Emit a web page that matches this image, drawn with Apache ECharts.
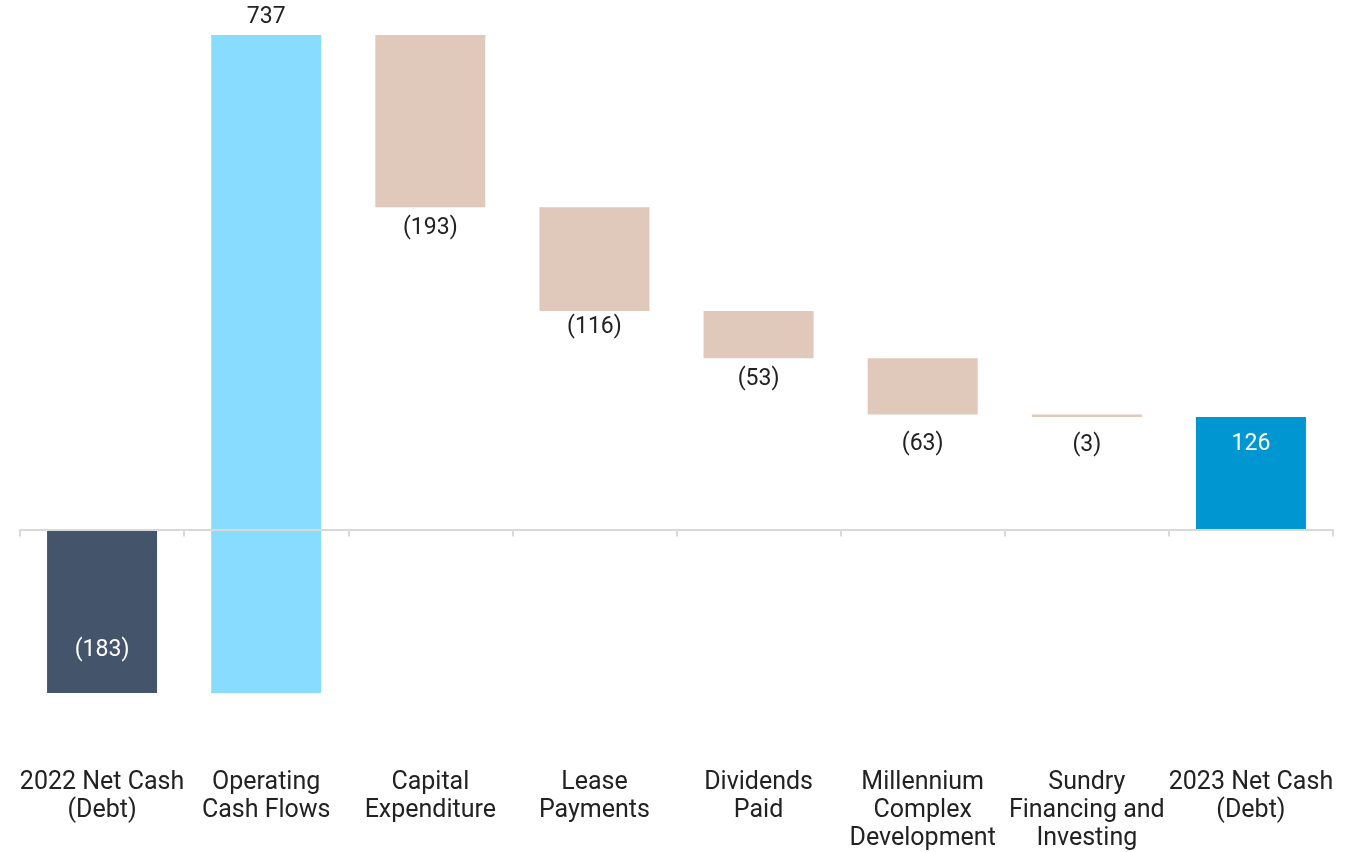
<!DOCTYPE html>
<html>
<head>
<meta charset="utf-8">
<script src="https://cdn.jsdelivr.net/npm/echarts@6/dist/echarts.min.js"></script>
<style>
  html, body { margin: 0; padding: 0; background: #fff; }
  #chart { width: 1356px; height: 852px; }
</style>
</head>
<body>
<div id="chart"></div>
<script>
// 净现金瀑布图数据
const categories = [
  '2022 Net Cash\n(Debt)', 'Operating\nCash Flows', 'Capital\nExpenditure', 'Lease\nPayments',
  'Dividends\nPaid', 'Millennium\nComplex\nDevelopment', 'Sundry\nFinancing and\nInvesting', '2023 Net Cash\n(Debt)'
]
const changes = [-183, 737, -193, -116, -53, -63, -3, 126]
const isTotal = [true, false, false, false, false, false, false, true]

const colors = ['#44546a', '#87dcff', '#e0c8bb', '#e0c8bb', '#e0c8bb', '#e0c8bb', '#e0c8bb', '#0096d2']

// 计算透明底座
const bases = []
let running = 0
changes.forEach((v, i) => {
  if (isTotal[i]) {
    bases.push(0)
    running = v
  } else if (v >= 0) {
    bases.push(running)
    running += v
  } else {
    running += v
    bases.push(running)
  }
})

const fmt = v => v < 0 ? '(' + Math.abs(v) + ')' : String(v)

// 每个标签的位置
const labelPos = [
  { position: 'insideBottom', distance: 31, color: '#fff' },
  { position: 'top', distance: 6, color: '#222' },
  { position: 'bottom', distance: 9, color: '#222' },
  { position: 'bottom', distance: 5, color: '#222' },
  { position: 'bottom', distance: 10, color: '#222' },
  { position: 'bottom', distance: 18, color: '#222' },
  { position: 'bottom', distance: 17, color: '#222' },
  { position: 'insideTop', distance: 16, color: '#fff' }
]

const chart = echarts.init(document.getElementById('chart'))
const font = 'Roboto'

chart.setOption({
  animation: false,
  grid: { left: 20, right: 23, top: 35, bottom: 159, containLabel: false, outerBoundsMode: 'none' },
  xAxis: [
    {
      // 零线和刻度
      type: 'category',
      data: categories,
      z: 5,
      axisLine: { onZero: true, lineStyle: { color: '#d9d9d9', width: 2 } },
      axisTick: { show: true, length: 7, lineStyle: { color: '#d9d9d9', width: 2 } },
      axisLabel: { show: false }
    },
    {
      // 底部类目标签
      type: 'category',
      data: categories,
      position: 'bottom',
      axisLine: { show: false, onZero: false },
      axisTick: { show: false },
      axisLabel: {
        show: true,
        interval: 0,
        margin: 76,
        color: '#222',
        fontFamily: font,
        fontSize: 25,
        lineHeight: 28,
        hideOverlap: false
      }
    }
  ],
  yAxis: {
    type: 'value',
    min: -183,
    max: 554,
    show: false,
    splitLine: { show: false }
  },
  series: [
    {
      type: 'bar',
      stack: 'wf',
      stackStrategy: 'all',
      barWidth: 110,
      itemStyle: { color: 'transparent' },
      emphasis: { disabled: true },
      data: bases
    },
    {
      type: 'bar',
      stack: 'wf',
      stackStrategy: 'all',
      barWidth: 110,
      data: changes.map((v, i) => ({
        value: isTotal[i] ? v : (v >= 0 ? v : -v),
        itemStyle: { color: colors[i] },
        label: {
          show: true,
          formatter: fmt(v),
          position: labelPos[i].position,
          distance: labelPos[i].distance,
          color: labelPos[i].color,
          fontFamily: font,
          fontSize: 23
        }
      }))
    }
  ]
})
</script>
</body>
</html>
